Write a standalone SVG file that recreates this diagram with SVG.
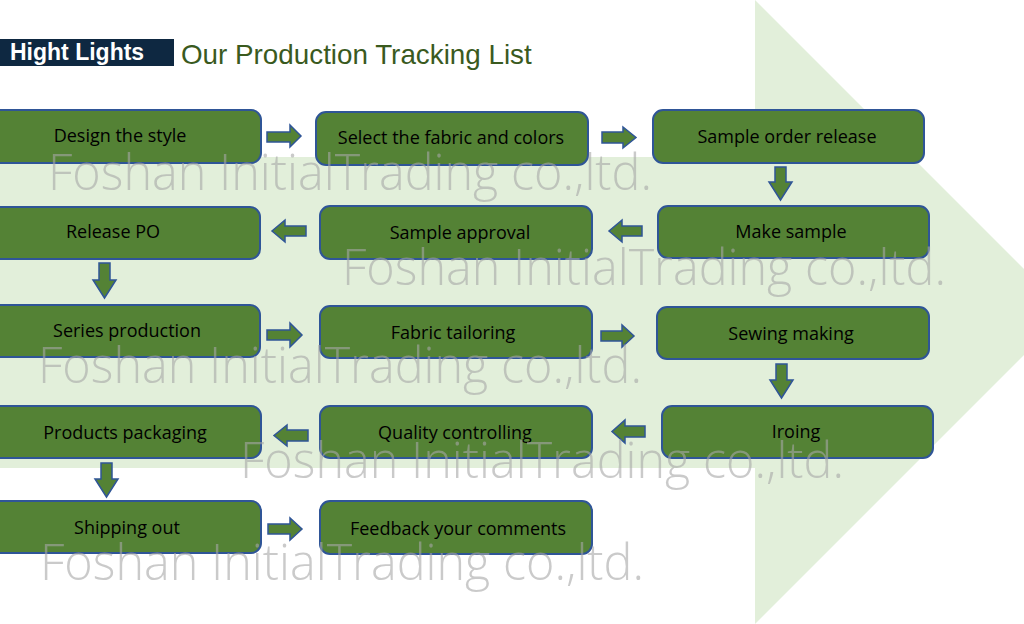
<svg xmlns="http://www.w3.org/2000/svg" width="1024" height="624" viewBox="0 0 1024 624">
<style>
.box{fill:#548235;stroke:#2f5597;stroke-width:2}
.arr{fill:#548235;stroke:#2f5597;stroke-width:1.5;stroke-linejoin:miter}
.lbl{font-family:"Open Sans","Noto Sans",sans-serif;font-size:18px;fill:#000;text-anchor:middle}
.wm{font-family:"Open Sans","Noto Sans",sans-serif;font-weight:300;font-size:50px;fill:#a6a6a6;fill-opacity:0.6}
</style>
<rect width="1024" height="624" fill="#fff"/>
<g id="background">
<rect x="0" y="157" width="756" height="311" fill="#e2efda"/>
<polygon points="755,0 1067,312 755,624" fill="#e2efda"/>
</g>
<g id="header">
<rect x="0" y="39" width="174" height="27" fill="#0e2841"/>
<text x="10" y="60" font-family="Liberation Sans,Arial,sans-serif" font-weight="bold" font-size="23" fill="#fff">Hight Lights</text>
<text x="181" y="64" font-family="Liberation Sans,Arial,sans-serif" font-size="27.8" fill="#3a5a1e">Our Production Tracking List</text>
</g>
<g id="connectors">
<polygon class="arr" points="267,132 290,132 290,125 301,136 290,147 290,142 267,142"/>
<polygon class="arr" points="602,132 623,132 623,127 636,137.5 623,148 623,143 602,143"/>
<polygon class="arr" points="775,167 786,167 786,182 792,182 780.5,200 769,182 775,182"/>
<polygon class="arr" points="306,226 285,226 285,220 272,231 285,242 285,236 306,236"/>
<polygon class="arr" points="642,226 622,226 622,220 609,231 622,242 622,236 642,236"/>
<polygon class="arr" points="99,263 110,263 110,280 116,280 104.5,298 93,280 99,280"/>
<polygon class="arr" points="267,330 290,330 290,323 302,335 290,347 290,340 267,340"/>
<polygon class="arr" points="601,331 622,331 622,325 634,336 622,347 622,341 601,341"/>
<polygon class="arr" points="776,364 787,364 787,380 793,380 781.5,398 770,380 776,380"/>
<polygon class="arr" points="308,430 287,430 287,425 274,435.5 287,446 287,441 308,441"/>
<polygon class="arr" points="645,426 625,426 625,420 612,431.5 625,443 625,437 645,437"/>
<polygon class="arr" points="101,463 112,463 112,479 118,479 106.5,497 95,479 101,479"/>
<polygon class="arr" points="268,524 290,524 290,518 302,529 290,540 290,534 268,534"/>
</g>
<g id="n1"><rect class="box" x="-12" y="110" width="273" height="53" rx="10"/><text class="lbl" x="120" y="142">Design the style</text></g>
<g id="n2"><rect class="box" x="316" y="112" width="272" height="53" rx="10"/><text class="lbl" x="451" y="144">Select the fabric and colors</text></g>
<g id="n3"><rect class="box" x="653" y="110" width="271" height="53" rx="10"/><text class="lbl" x="787" y="143">Sample order release</text></g>
<g id="n4"><rect class="box" x="658" y="206" width="271" height="52" rx="10"/><text class="lbl" x="791" y="238">Make sample</text></g>
<g id="n5"><rect class="box" x="320" y="206" width="272" height="53" rx="10"/><text class="lbl" x="460" y="239">Sample approval</text></g>
<g id="n6"><rect class="box" x="-12" y="207" width="272" height="52" rx="10"/><text class="lbl" x="113" y="238">Release PO</text></g>
<g id="n7"><rect class="box" x="-12" y="305" width="272" height="52" rx="10"/><text class="lbl" x="127" y="337">Series production</text></g>
<g id="n8"><rect class="box" x="320" y="306" width="272" height="52" rx="10"/><text class="lbl" x="453" y="339">Fabric tailoring</text></g>
<g id="n9"><rect class="box" x="657" y="307" width="272" height="52" rx="10"/><text class="lbl" x="791" y="340">Sewing making</text></g>
<g id="n10"><rect class="box" x="662" y="406" width="271" height="52" rx="10"/><text class="lbl" x="796" y="438">Iroing</text></g>
<g id="n11"><rect class="box" x="320" y="406" width="272" height="52" rx="10"/><text class="lbl" x="455" y="439">Quality controlling</text></g>
<g id="n12"><rect class="box" x="-12" y="406" width="273" height="52" rx="10"/><text class="lbl" x="125" y="439">Products packaging</text></g>
<g id="n13"><rect class="box" x="-12" y="501" width="273" height="52" rx="10"/><text class="lbl" x="127" y="534">Shipping out</text></g>
<g id="n14"><rect class="box" x="320" y="501" width="272" height="53" rx="10"/><text class="lbl" x="458" y="535">Feedback your comments</text></g>
<g id="watermarks">
<text class="wm" x="48" y="190" textLength="604" lengthAdjust="spacingAndGlyphs">Foshan InitialTrading co.,ltd.</text>
<text class="wm" x="342" y="285" textLength="604" lengthAdjust="spacingAndGlyphs">Foshan InitialTrading co.,ltd.</text>
<text class="wm" x="38" y="383" textLength="604" lengthAdjust="spacingAndGlyphs">Foshan InitialTrading co.,ltd.</text>
<text class="wm" x="240" y="478" textLength="604" lengthAdjust="spacingAndGlyphs">Foshan InitialTrading co.,ltd.</text>
<text class="wm" x="40" y="580" textLength="604" lengthAdjust="spacingAndGlyphs">Foshan InitialTrading co.,ltd.</text>
</g>
</svg>
